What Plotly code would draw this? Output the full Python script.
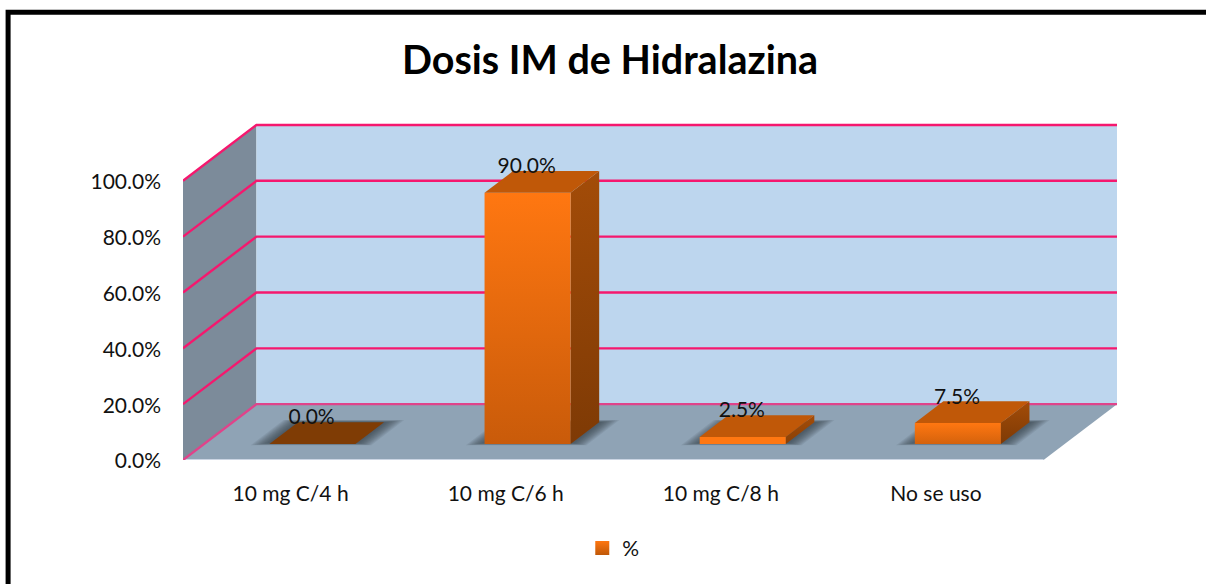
import plotly.graph_objects as go

# ---- data ----
categories = ["10 mg C/4 h", "10 mg C/6 h", "10 mg C/8 h", "No se uso"]
values = [0.0, 90.0, 2.5, 7.5]
labels = ["0.0%", "90.0%", "2.5%", "7.5%"]
y_ticks = [0, 20, 40, 60, 80, 100]
y_tick_labels = ["0.0%", "20.0%", "40.0%", "60.0%", "80.0%", "100.0%"]
series_name = "%"
title_text = "Dosis IM de Hidralazina"

# ---- oblique projection of the chart box (style, not data) ----
W, H = 1206, 584
FONT = "Lato"
LABEL_SIZE = 21
FRONT_L, FRONT_R = 182.5, 1043.5  # front edge of the floor in pixels
Y0_PX, Y100_PX = 460.5, 180.5     # front edge of the side wall in pixels
OFF_X, OFF_Y = 73.5, 56           # pixel shift from the front to the back of the box
PAD = 5                           # spare pixels so edge lines are not clipped
UX = (FRONT_R - FRONT_L) / 4      # pixels per category
UY = (Y0_PX - Y100_PX) / 100      # pixels per percent
DEPTH_X = OFF_X / UX
DEPTH_Y = OFF_Y / UY
BAR_HALF = 0.2
BAR_SHIFT = 0.004
D0, D1 = 0.286, 0.675
X_MIN, X_MAX = -0.5, 3.5
Y_TOP = max(y_ticks)

# the plot area spans the whole projected box, so nothing is clipped
L, R = FRONT_L, FRONT_R + OFF_X + PAD
B, T = Y0_PX, Y100_PX - OFF_Y - PAD
X_RANGE = [X_MIN, X_MAX + DEPTH_X + PAD / UX]
Y_RANGE = [0, Y_TOP + DEPTH_Y + PAD / UY]


def proj(x, v, d):
    return x + DEPTH_X * d, v + DEPTH_Y * d


def poly(points, **kw):
    xs, ys = zip(*[proj(*p) for p in points + points[:1]])
    kw.setdefault("line", dict(width=0))
    return go.Scatter(x=xs, y=ys, mode="lines", fill="toself", hoverinfo="skip",
                      showlegend=False, **kw)


def grad(top, bottom):
    return dict(type="vertical", colorscale=[[0, bottom], [1, top]])


fig = go.Figure()

# walls and floor
fig.add_trace(poly([(X_MIN, 0, 0), (X_MIN, 0, 1), (X_MIN, Y_TOP, 1), (X_MIN, Y_TOP, 0)],
                   fillcolor="#7C8B9A"))
fig.add_trace(poly([(X_MIN, 0, 1), (X_MAX, 0, 1), (X_MAX, Y_TOP, 1), (X_MIN, Y_TOP, 1)],
                   fillcolor="#BDD6EE"))
fig.add_trace(poly([(X_MIN, 0, 0), (X_MAX, 0, 0), (X_MAX, 0, 1), (X_MIN, 0, 1)],
                   fillcolor="#8FA3B5"))
fx, fy = zip(*[proj(X_MIN, 0, 0), proj(X_MAX, 0, 0)])
fig.add_trace(go.Scatter(x=fx, y=fy, mode="lines", hoverinfo="skip", showlegend=False,
                         line=dict(color="#CBD5E3", width=2)))

# grid lines on the back and side walls
for t in y_ticks:
    color = "#E0438A" if t == 0 else "#F5186E"
    xs, ys = zip(*[proj(X_MIN, t, 0), proj(X_MIN, t, 1), proj(X_MAX, t, 1)])
    fig.add_trace(go.Scatter(x=xs, y=ys, mode="lines", hoverinfo="skip", showlegend=False,
                             line=dict(color=color, width=2.4)))

# soft floor shadows
for i, v in enumerate(values):
    c = i + BAR_SHIFT
    for k in range(10):
        gx = 0.08 - 0.008 * k
        gd = 0.08 - 0.0085 * k
        fig.add_trace(poly([(c - BAR_HALF - gx, 0, D0 - gd * 0.5 + 0.02),
                            (c + BAR_HALF + gx, 0, D0 - gd * 0.5 + 0.02),
                            (c + BAR_HALF + gx, 0, D1 + gd * 0.5),
                            (c - BAR_HALF - gx, 0, D1 + gd * 0.5)],
                           fillcolor="rgba(45,55,65,0.10)"))

# bars
for i, v in enumerate(values):
    a, b = i + BAR_SHIFT - BAR_HALF, i + BAR_SHIFT + BAR_HALF
    if v > 0:
        frac = min(1, v / 90)
        bottom = "#C95B0A" if frac > 0.2 else ("#D4620C" if frac > 0.05 else "#FF7711")
        side_bottom = "#7E3A05" if frac > 0.05 else "#8A4006"
        fig.add_trace(poly([(b, 0, D0), (b, 0, D1), (b, v, D1), (b, v, D0)],
                           fillgradient=grad("#A34C08", side_bottom)))
        fig.add_trace(poly([(a, 0, D0), (b, 0, D0), (b, v, D0), (a, v, D0)],
                           fillgradient=grad("#FF7711", bottom)))
    top = "#C05808" if v > 0 else "#7F3C05"
    fig.add_trace(poly([(a, v, D0), (b, v, D0), (b, v, D1), (a, v, D1)], fillcolor=top))

# data labels, a fixed lift above the front top edge of each bar
LIFT = 8.9
lx, ly = zip(*[proj(i, v + LIFT, D0) for i, v in enumerate(values)])
fig.add_trace(go.Scatter(x=lx, y=ly, mode="text", text=labels, textposition="middle center",
                         textfont=dict(family=FONT, size=LABEL_SIZE, color="#111111"),
                         hoverinfo="skip", showlegend=False))

# legend entry
fig.add_trace(go.Scatter(x=[None], y=[None], mode="markers", name=series_name, showlegend=True,
                         marker=dict(symbol="square", size=14, color="#FF7711",
                                     gradient=dict(type="vertical", color="#C05808"))))


def px_x(p):
    return (p - L) / (R - L)


def px_y(p):
    return (B - p) / (B - T)


frame = f"M {px_x(7.5)} {px_y(H + 10)} L {px_x(7.5)} {px_y(11.5)} L {px_x(W + 10)} {px_y(11.5)}"

fig.update_layout(
    width=W, height=H, autosize=False,
    margin=dict(l=L, r=W - R, t=T, b=H - B, pad=0),
    paper_bgcolor="white", plot_bgcolor="rgba(0,0,0,0)",
    font=dict(family=FONT, size=LABEL_SIZE, color="#111111"),
    title=dict(text=title_text, x=610 / W, y=1 - 60 / H, xref="container", yref="container",
               xanchor="center", yanchor="middle",
               font=dict(family=FONT, size=39.5, weight="bold", color="#000000")),
    xaxis=dict(range=X_RANGE, tickvals=list(range(len(categories))), ticktext=categories,
               showgrid=False, zeroline=False, showline=False, ticks="", ticklabelstandoff=19,
               fixedrange=True),
    yaxis=dict(range=Y_RANGE, tickvals=y_ticks, ticktext=y_tick_labels,
               showgrid=False, zeroline=False, showline=False, ticks="", ticklabelstandoff=21,
               ticklabelshift=1, fixedrange=True),
    legend=dict(x=px_x(613), y=px_y(549), xanchor="center", yanchor="middle", orientation="h",
                font=dict(family=FONT, size=LABEL_SIZE, color="#111111"), bgcolor="rgba(0,0,0,0)"),
    shapes=[dict(type="path", path=frame, xref="paper", yref="paper", layer="above",
                 line=dict(color="#000000", width=5))],
)

fig.write_html("out.html", config=dict(displayModeBar=False),
               post_script="document.body.style.margin='0';document.body.style.overflow='hidden';")
